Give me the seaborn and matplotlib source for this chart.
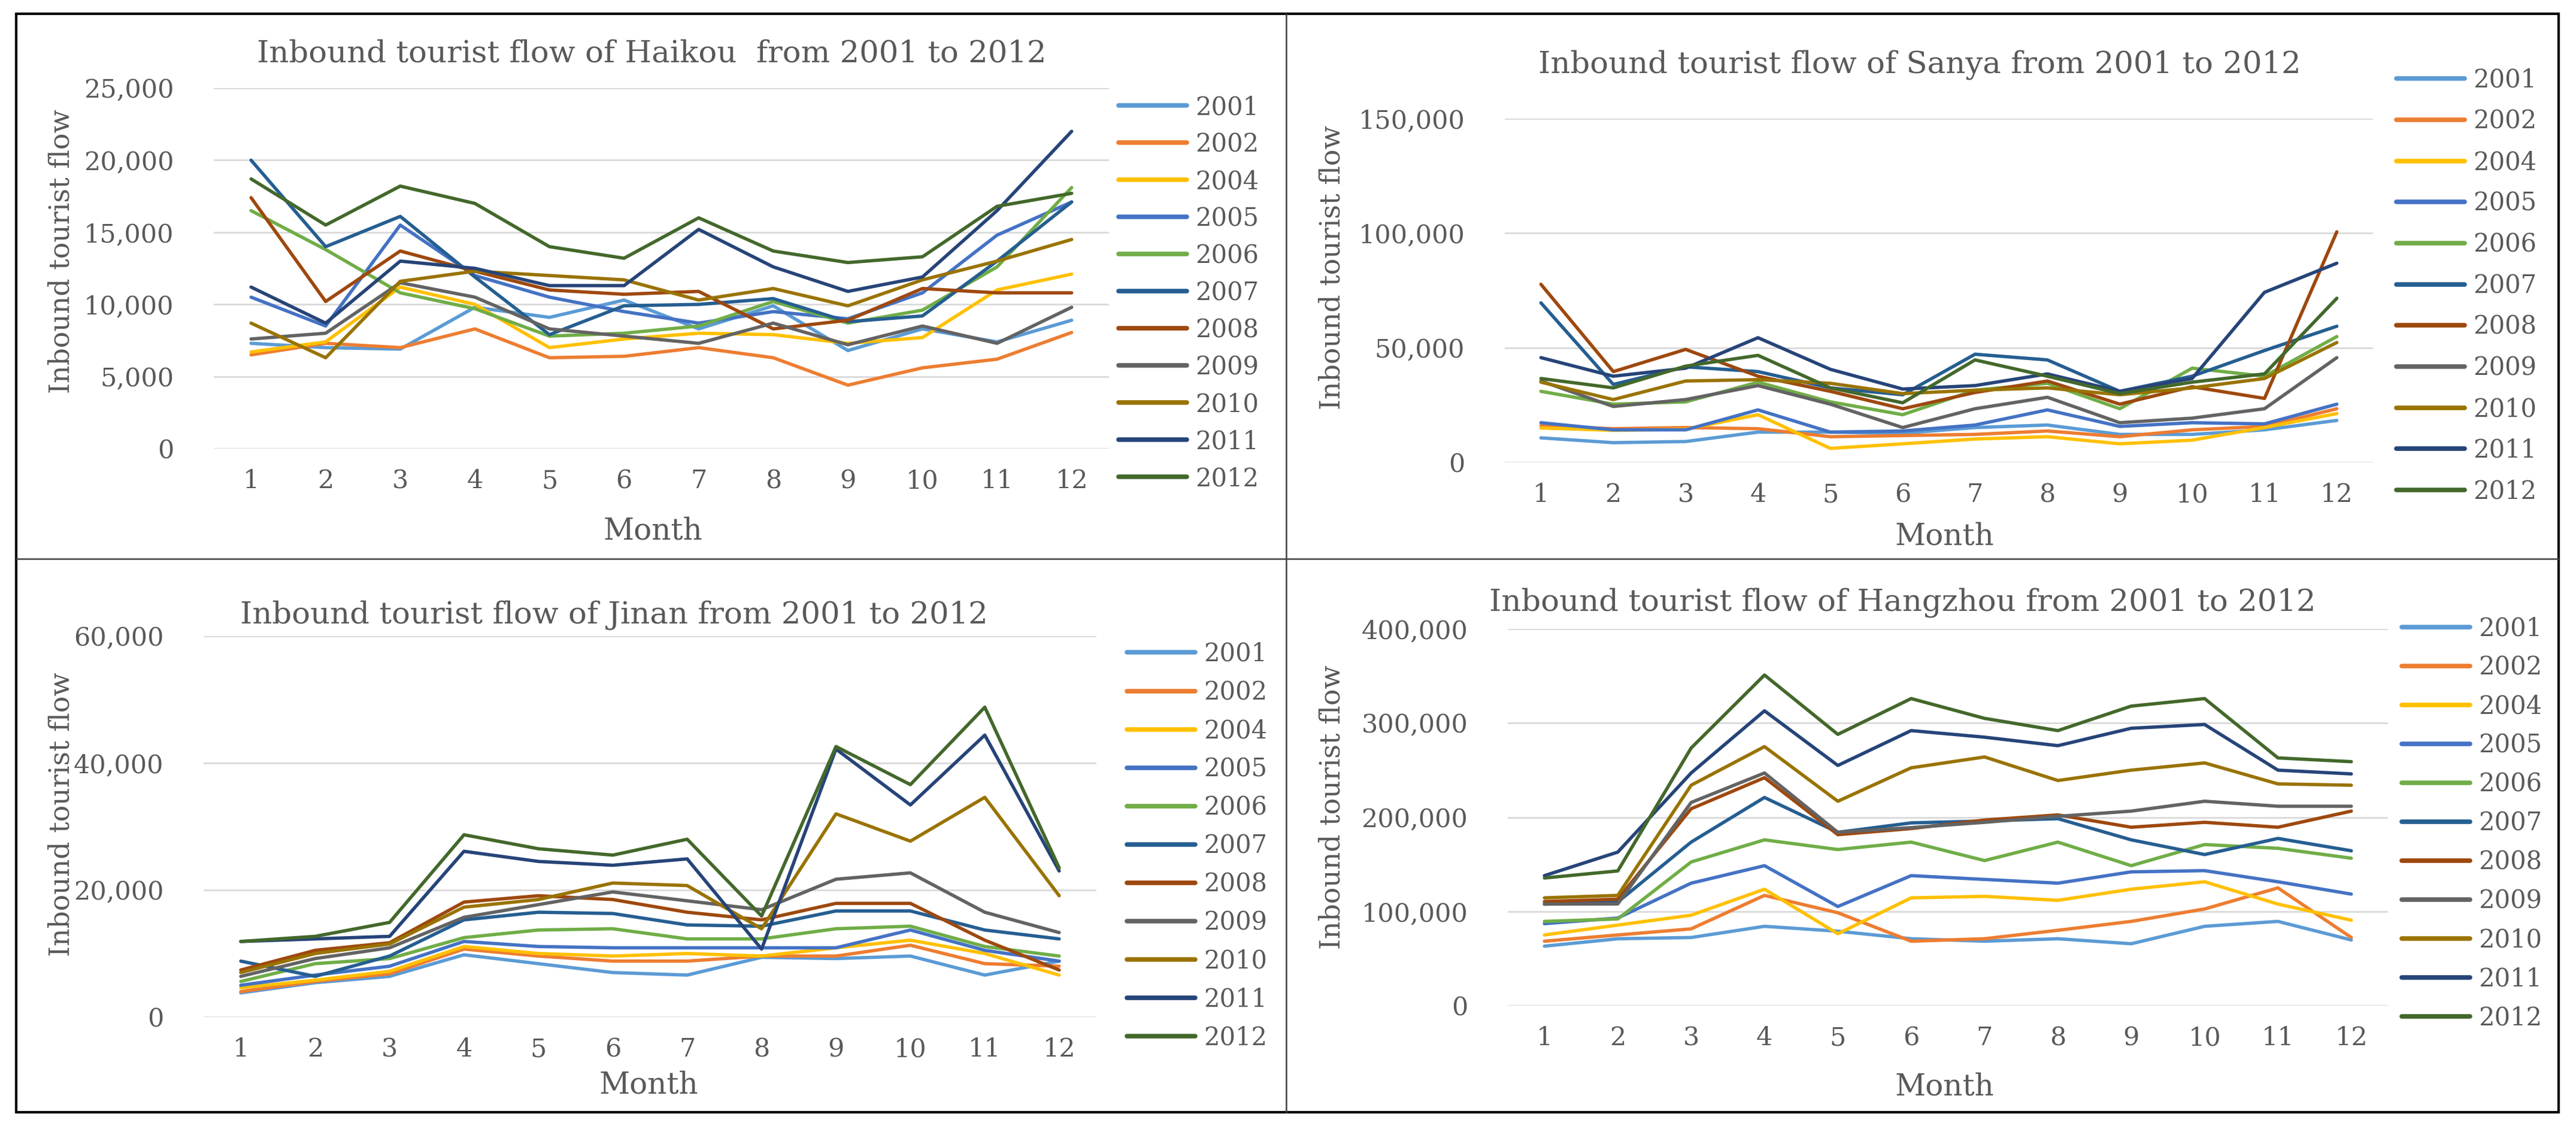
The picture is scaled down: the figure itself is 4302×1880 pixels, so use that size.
import numpy as np
import pandas as pd
import matplotlib
matplotlib.use('Agg')
import matplotlib.pyplot as plt
import seaborn as sns
from matplotlib.lines import Line2D
from matplotlib.patches import Rectangle
from matplotlib.ticker import FuncFormatter

# Data (monthly inbound tourist flow)
months = list(range(1, 13))
years = ['2001', '2002', '2004', '2005', '2006', '2007', '2008', '2009', '2010', '2011', '2012']
year_colors = ['#5B9BD5', '#ED7D31', '#FFC000', '#4472C4', '#70AD47', '#255E91',
               '#9E480E', '#636363', '#997300', '#264478', '#43682B']

haikou = [
    [7300, 7000, 6900, 9800, 9100, 10300, 8300, 9900, 6800, 8300, 7400, 8900],
    [6500, 7300, 7000, 8300, 6300, 6400, 7000, 6300, 4400, 5600, 6200, 8050],
    [6700, 7400, 11200, 10000, 7000, 7600, 8000, 7900, 7300, 7700, 11000, 12100],
    [10500, 8500, 15500, 12000, 10500, 9500, 8700, 9500, 9000, 10800, 14800, 17100],
    [16500, 13800, 10800, 9700, 7800, 8000, 8500, 10200, 8700, 9600, 12600, 18100],
    [20000, 14000, 16100, 11900, 7900, 9900, 10000, 10400, 8800, 9200, 13000, 17100],
    [17400, 10200, 13700, 12300, 11000, 10700, 10900, 8300, 8900, 11100, 10800, 10800],
    [7600, 8000, 11500, 10500, 8300, 7800, 7300, 8700, 7200, 8500, 7300, 9800],
    [8700, 6300, 11600, 12300, 12000, 11700, 10300, 11100, 9900, 11700, 13000, 14500],
    [11200, 8700, 13000, 12500, 11300, 11300, 15200, 12600, 10900, 11900, 16500, 22000],
    [18700, 15500, 18200, 17000, 14000, 13200, 16000, 13700, 12900, 13300, 16800, 17700],
]

sanya = [
    [10700, 8600, 9100, 13200, 13200, 12700, 15200, 16300, 12200, 12200, 14200, 18300],
    [16000, 14700, 15200, 14700, 11200, 11700, 12200, 13700, 11200, 14200, 15700, 23400],
    [15000, 14000, 14500, 20800, 6100, 8100, 10200, 11200, 8100, 9700, 15200, 21300],
    [17300, 14200, 14200, 22900, 13200, 13700, 16300, 22900, 15700, 17300, 16800, 25400],
    [31000, 25400, 26400, 35000, 26400, 20800, 31500, 34500, 23400, 41100, 37600, 54900],
    [69600, 34000, 41700, 39600, 32500, 29500, 47200, 44700, 31000, 37600, 48800, 59400],
    [77700, 39600, 49300, 37600, 31000, 23400, 30500, 35500, 25400, 33000, 27900, 100600],
    [35500, 24400, 27400, 33500, 25400, 15200, 23400, 28400, 17300, 19300, 23400, 45700],
    [35000, 27400, 35500, 36100, 34500, 30000, 31500, 32500, 29500, 32500, 36600, 52300],
    [45700, 37600, 41100, 54400, 40600, 32000, 33500, 38600, 31000, 36600, 74200, 86900],
    [36600, 32500, 42000, 46700, 32500, 26000, 44700, 37600, 30000, 35000, 38600, 71600],
]

jinan = [
    [3800, 5400, 6400, 9800, 8400, 7000, 6600, 9400, 9200, 9600, 6600, 8800],
    [4000, 5600, 6800, 10700, 9600, 8800, 8800, 9600, 9600, 11300, 8400, 8000],
    [4600, 5800, 7200, 11100, 10000, 9600, 10000, 9600, 10900, 12100, 10000, 6600],
    [5000, 6600, 8000, 11900, 11100, 10900, 10900, 10900, 10900, 13700, 10500, 8800],
    [5600, 8400, 9200, 12500, 13700, 13900, 12300, 12300, 13900, 14300, 11100, 9600],
    [8800, 6400, 9600, 15300, 16500, 16300, 14500, 14300, 16700, 16700, 13700, 12300],
    [7400, 10500, 11700, 18100, 19100, 18500, 16500, 15300, 17900, 17900, 12100, 7400],
    [6400, 9200, 10900, 15700, 17700, 19700, 18300, 16900, 21700, 22700, 16500, 13300],
    [7000, 10000, 11500, 17300, 18500, 21100, 20700, 13900, 32000, 27700, 34600, 19100],
    [11900, 12300, 12700, 26100, 24500, 23900, 24900, 10700, 42200, 33400, 44400, 23000],
    [11900, 12700, 14900, 28700, 26500, 25500, 28000, 15900, 42600, 36600, 48800, 23500],
]

hangzhou = [
    [63100, 71000, 72300, 84200, 79000, 71000, 68400, 71000, 65700, 84200, 89400, 69700],
    [68400, 75000, 81500, 117000, 98600, 68400, 71000, 80000, 89400, 102600, 125000, 72300],
    [75000, 85500, 96000, 123600, 76300, 114400, 116000, 111800, 123600, 131500, 107800, 90700],
    [87000, 93000, 130000, 148600, 105200, 138000, 134000, 130000, 142000, 143300, 131500, 118400],
    [89400, 92000, 152500, 176000, 165700, 173600, 154000, 173600, 148600, 171000, 167000, 156500],
    [107800, 110000, 173600, 221000, 184000, 194000, 196000, 198500, 176000, 160400, 177500, 164400],
    [110500, 113000, 209000, 242000, 181500, 188000, 197000, 202500, 189400, 194600, 189400, 206500],
    [107800, 108000, 215700, 247000, 184000, 189000, 194600, 201000, 206500, 217000, 211700, 211700],
    [114400, 117000, 234000, 275000, 217000, 252500, 264000, 239000, 250000, 257700, 235400, 234000],
    [138000, 163000, 247000, 313000, 255000, 292000, 285000, 276000, 294500, 298500, 250000, 246000],
    [135500, 143000, 273500, 351000, 288000, 326000, 305000, 292000, 318000, 326000, 263000, 259000],
]

titles = ['Inbound tourist flow of Haikou  from 2001 to 2012',
          'Inbound tourist flow of Sanya from 2001 to 2012',
          'Inbound tourist flow of Jinan from 2001 to 2012',
          'Inbound tourist flow of Hangzhou from 2001 to 2012']

sns.set_style('white')
plt.rcParams['font.family'] = ['DejaVu Serif']

W, H = 4302, 1880
TXT = '#595959'
fig = plt.figure(figsize=(W / 100, H / 100), dpi=100)


def fx(x):
    return x / W


def fy(y):
    return 1 - y / H


# layout in reference pixels: axes box, title, y label, x label, legend anchor, legend spacing
layout = [
    dict(data=haikou, ymax=25000, step=5000, box=(357, 147, 1852, 749), title=(1088, 90),
         ylab=(103, 420), xlab=(1090, 887), leg=(1868, 158), lsp=0.48),
    dict(data=sanya, ymax=150000, step=50000, box=(2513, 198, 3963, 772), title=(3206, 108),
         ylab=(2225, 447), xlab=(3247, 896), leg=(4002, 113), lsp=0.64),
    dict(data=jinan, ymax=60000, step=20000, box=(340, 1062, 1831, 1698), title=(1025, 1027),
         ylab=(103, 1360), xlab=(1083, 1812), leg=(1882, 1071), lsp=0.53),
    dict(data=hangzhou, ymax=400000, step=100000, box=(2518, 1050, 3988, 1679), title=(3177, 1006),
         ylab=(2225, 1348), xlab=(3247, 1815), leg=(4011, 1029), lsp=0.55),
]

palette = dict(zip(years, year_colors))

for i, p in enumerate(layout):
    x0, y0, x1, y1 = p['box']
    ax = fig.add_axes([fx(x0), fy(y1), (x1 - x0) / W, (y1 - y0) / H])

    rows = []
    for yr, vals in zip(years, p['data']):
        for m, v in zip(months, vals):
            rows.append({'Month': m, 'Year': yr, 'Flow': v})
    df = pd.DataFrame(rows)

    sns.lineplot(data=df, x='Month', y='Flow', hue='Year', hue_order=years,
                 palette=palette, linewidth=4, errorbar=None, ax=ax)

    ax.set_xlim(0.5, 12.5)
    ax.set_ylim(0, p['ymax'])
    ax.set_xticks(months)
    ax.set_yticks(np.arange(0, p['ymax'] + 1, p['step']))
    ax.yaxis.set_major_formatter(FuncFormatter(lambda v, pos: f'{v:,.0f}'))
    ax.tick_params(axis='both', length=0, labelsize=31, labelcolor=TXT)
    ax.tick_params(axis='y', pad=48)
    ax.tick_params(axis='x', pad=24)
    ax.yaxis.grid(True, color='#D9D9D9', linewidth=2)
    ax.xaxis.grid(False)
    ax.set_axisbelow(True)
    for s in ax.spines.values():
        s.set_visible(False)
    ax.set_xlabel('')
    ax.set_ylabel('')

    handles, labels = ax.get_legend_handles_labels()
    handles = [Line2D([], [], color=palette[l], linewidth=5.5) for l in labels]
    ax.legend(handles, labels, loc='upper left',
              bbox_to_anchor=(fx(p['leg'][0]), fy(p['leg'][1])),
              bbox_transform=fig.transFigure, frameon=False, fontsize=30,
              labelcolor=TXT, handlelength=2.73, handletextpad=0.34,
              labelspacing=p['lsp'], borderpad=0, borderaxespad=0)

    fig.text(fx(p['title'][0]), fy(p['title'][1]), titles[i], ha='center', va='center',
             fontsize=37, color=TXT)
    fig.text(fx(p['ylab'][0]), fy(p['ylab'][1]), 'Inbound tourist flow', ha='center',
             va='center', rotation=90, fontsize=33, color=TXT)
    fig.text(fx(p['xlab'][0]), fy(p['xlab'][1]), 'Month', ha='center', va='center',
             fontsize=36, color=TXT)

# frame around the four panels and the dividers
fig.add_artist(Rectangle((fx(27), fy(1857)), (4273 - 27) / W, (1857 - 23) / H,
                         transform=fig.transFigure, fill=False, edgecolor='black', linewidth=3))
fig.add_artist(Line2D([fx(2148), fx(2148)], [fy(23), fy(1857)], transform=fig.transFigure,
                      color='#404040', linewidth=1.8))
fig.add_artist(Line2D([fx(27), fx(4273)], [fy(933), fy(933)], transform=fig.transFigure,
                      color='#404040', linewidth=1.8))

fig.savefig('out.png', dpi=100, facecolor='white')
